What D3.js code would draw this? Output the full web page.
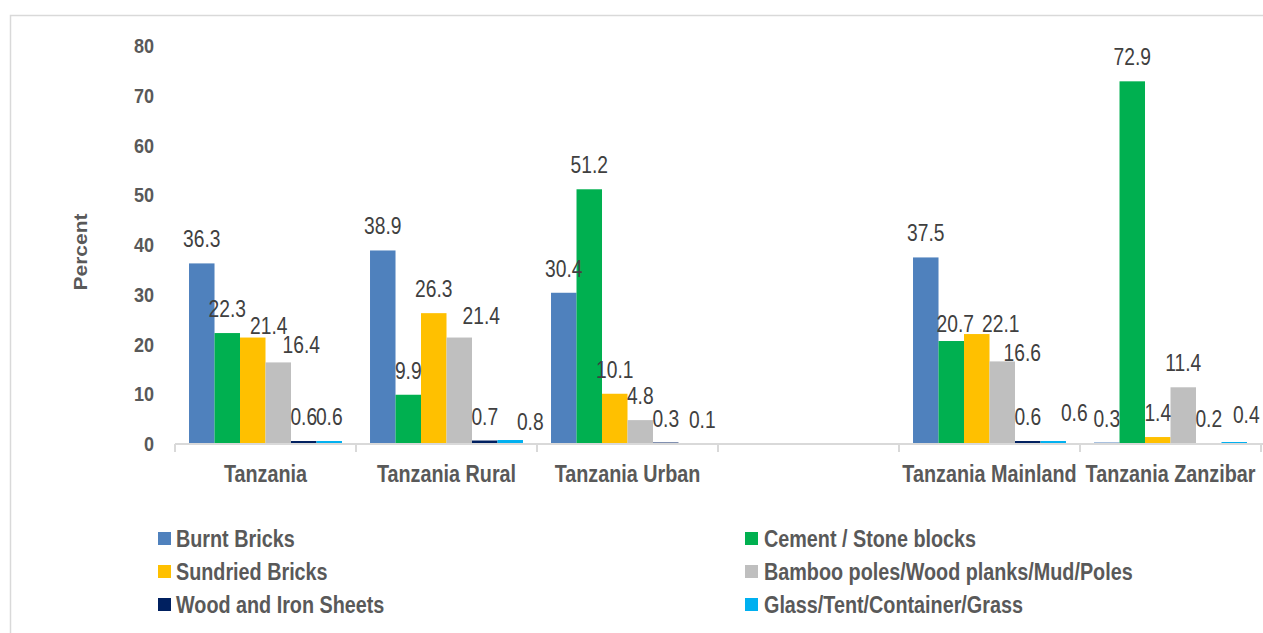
<!DOCTYPE html>
<html>
<head>
<meta charset="utf-8">
<script src="https://cdn.jsdelivr.net/npm/d3@7"></script>
<style>
  body { margin: 0; background: #fff; }
  text { font-family: "Liberation Sans", Arial, sans-serif; }
</style>
</head>
<body>
<div id="chart"></div>
<script>
var svgWidth = 1263;
var svgHeight = 633;

// data
var categories = ["Tanzania", "Tanzania Rural", "Tanzania Urban", "", "Tanzania Mainland", "Tanzania Zanzibar"];
var seriesNames = ["Burnt Bricks", "Cement / Stone blocks", "Sundried Bricks",
  "Bamboo poles/Wood planks/Mud/Poles", "Wood and Iron Sheets", "Glass/Tent/Container/Grass"];
var burnt    = [36.3, 38.9, 30.4, null, 37.5, 0.3];
var cement   = [22.3, 9.9, 51.2, null, 20.7, 72.9];
var sundried = [21.4, 26.3, 10.1, null, 22.1, 1.4];
var bamboo   = [16.4, 21.4, 4.8, null, 16.6, 11.4];
var woodIron = [0.6, 0.7, 0.3, null, 0.6, 0.2];
var glass    = [0.6, 0.8, 0.1, null, 0.6, 0.4];
var yTicks = [0, 10, 20, 30, 40, 50, 60, 70, 80];
var colors = ["#4f81bd", "#00b050", "#ffc000", "#bfbfbf", "#002060", "#00b0f0"];

var seriesValues = [burnt, cement, sundried, bamboo, woodIron, glass];

// hand-moved data labels in the original (dx, dy from default spot), keyed "catIndex-seriesIndex"
var labelNudge = {
  "0-2": [16, 12], "0-3": [23, 7],
  "1-3": [22, 2], "1-5": [20, 6],
  "2-5": [11, 0],
  "4-1": [4, 7], "4-2": [24, 14], "4-3": [20, 16], "4-5": [21, -4],
  "5-5": [12, -3]
};

// text in the original is a bit squeezed horizontally
var sq = 0.86;

var svg = d3.select("#chart")
    .append("svg")
    .attr("width", svgWidth)
    .attr("height", svgHeight);

// outer frame (left and top visible)
svg.append("rect")
    .attr("x", 10.5).attr("y", 15.5)
    .attr("width", svgWidth + 20).attr("height", svgHeight + 20)
    .attr("fill", "none")
    .attr("stroke", "#d9d9d9")
    .attr("stroke-width", 1.5);

var x0 = d3.scaleBand()
    .domain(categories)
    .range([175, 1261]);

var x1 = d3.scaleBand()
    .domain(seriesNames)
    .range([0, x0.bandwidth()])
    .paddingOuter(0.55)
    .paddingInner(0);

var y = d3.scaleLinear()
    .domain([0, 80])
    .range([444, 46]);

// y axis labels
var yAxis = svg.append("g")
    .attr("transform", "translate(154,0)")
    .call(d3.axisLeft(y).tickValues(yTicks).tickSize(0).tickPadding(0));
yAxis.select(".domain").remove();
yAxis.selectAll("text")
    .attr("font-size", 21)
    .attr("font-weight", "bold")
    .attr("fill", "#595959")
    .attr("font-family", "Liberation Sans, Arial, sans-serif")
    .attr("transform", "scale(" + sq + ",1)");

svg.append("text")
    .attr("transform", "translate(87,252) rotate(-90) scale(1," + sq + ")")
    .attr("text-anchor", "middle")
    .attr("font-size", 21)
    .attr("font-weight", "bold")
    .attr("fill", "#595959")
    .text("Percent");

// bars
var rows = [];
categories.forEach(function(c, i) {
  seriesNames.forEach(function(s, j) {
    if (seriesValues[j][i] != null) {
      rows.push({cat: c, series: s, value: seriesValues[j][i], color: colors[j],
                 nudge: labelNudge[i + "-" + j] || [0, 0]});
    }
  });
});

svg.selectAll("rect.bar")
    .data(rows)
    .enter()
    .append("rect")
    .attr("class", "bar")
    .attr("x", d => x0(d.cat) + x1(d.series))
    .attr("y", d => y(d.value))
    .attr("width", x1.bandwidth())
    .attr("height", d => y(0) - y(d.value))
    .attr("fill", d => d.color);

svg.selectAll("text.lbl")
    .data(rows)
    .enter()
    .append("text")
    .attr("class", "lbl")
    .attr("transform", d => "translate(" + (x0(d.cat) + x1(d.series) + x1.bandwidth() / 2 + d.nudge[0]) + ","
        + (y(d.value) - 16 + d.nudge[1]) + ") scale(0.8,1)")
    .attr("text-anchor", "middle")
    .attr("font-size", 24)
    .attr("fill", "#404040")
    .text(d => d.value.toFixed(1));

// x axis
var xAxis = svg.append("g")
    .attr("transform", "translate(0,444)")
    .call(d3.axisBottom(x0).tickSize(0).tickPadding(22));
xAxis.select(".domain")
    .attr("stroke", "#d9d9d9")
    .attr("stroke-width", 2)
    .attr("d", "M175,0H1263");
xAxis.selectAll("text")
    .attr("font-size", 23)
    .attr("font-weight", "bold")
    .attr("fill", "#595959")
    .attr("font-family", "Liberation Sans, Arial, sans-serif")
    .attr("transform", "scale(" + sq + ",1)");

var bounds = categories.map(c => x0(c)).concat([x0.range()[1]]);
xAxis.selectAll("line.sep")
    .data(bounds)
    .enter()
    .append("line")
    .attr("class", "sep")
    .attr("x1", d => d).attr("x2", d => d)
    .attr("y1", 0).attr("y2", 8)
    .attr("stroke", "#d9d9d9")
    .attr("stroke-width", 2);

// legend
var legend = svg.selectAll("g.leg")
    .data(seriesNames)
    .enter()
    .append("g")
    .attr("class", "leg")
    .attr("transform", (d, i) => "translate(" + (i % 2 === 0 ? 158 : 745) + "," + (539 + Math.floor(i / 2) * 33) + ")");

legend.append("rect")
    .attr("x", 0).attr("y", -7)
    .attr("width", 13).attr("height", 13)
    .attr("fill", (d, i) => colors[i]);

legend.append("text")
    .attr("transform", (d, i) => "translate(" + (i % 2 === 0 ? 18 : 19) + ",8) scale(" + sq + ",1)")
    .attr("font-size", 23)
    .attr("font-weight", "bold")
    .attr("fill", "#595959")
    .text(d => d);
</script>
</body>
</html>
